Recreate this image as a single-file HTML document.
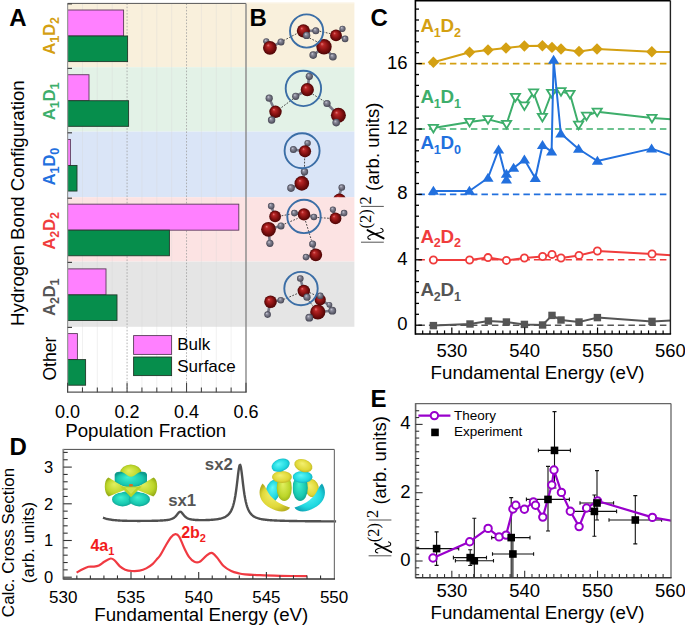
<!DOCTYPE html>
<html><head><meta charset="utf-8"><style>
html,body{margin:0;padding:0;background:#fff;}
svg{display:block;font-family:"Liberation Sans", sans-serif;}
</style></head><body>
<svg width="685" height="626" viewBox="0 0 685 626">
<rect width="685" height="626" fill="#fff"/>
<rect x="67.6" y="3.4" width="286.8" height="63.8" fill="#F9F0DC"/>
<rect x="67.6" y="67.2" width="286.8" height="64.4" fill="#E3F2E7"/>
<rect x="67.6" y="131.6" width="286.8" height="65.6" fill="#DAE5F7"/>
<rect x="67.6" y="197.2" width="286.8" height="64.4" fill="#FCE3E3"/>
<rect x="67.6" y="261.6" width="286.8" height="65.2" fill="#E5E5E5"/>
<rect x="246" y="2.5" width="108.39999999999998" height="1" fill="#F9F0DC"/>
<line x1="82.47" y1="3.4" x2="82.47" y2="392.2" stroke="#d8d8d8" stroke-width="0.5" stroke-opacity="0.7"/>
<line x1="97.33" y1="3.4" x2="97.33" y2="392.2" stroke="#d8d8d8" stroke-width="0.5" stroke-opacity="0.7"/>
<line x1="112.2" y1="3.4" x2="112.2" y2="392.2" stroke="#d8d8d8" stroke-width="0.5" stroke-opacity="0.7"/>
<line x1="127.07" y1="3.4" x2="127.07" y2="392.2" stroke="#a0a0a0" stroke-width="0.8" stroke-dasharray="1.6,1.6"/>
<line x1="141.93" y1="3.4" x2="141.93" y2="392.2" stroke="#d8d8d8" stroke-width="0.5" stroke-opacity="0.7"/>
<line x1="156.8" y1="3.4" x2="156.8" y2="392.2" stroke="#d8d8d8" stroke-width="0.5" stroke-opacity="0.7"/>
<line x1="171.67" y1="3.4" x2="171.67" y2="392.2" stroke="#d8d8d8" stroke-width="0.5" stroke-opacity="0.7"/>
<line x1="186.53" y1="3.4" x2="186.53" y2="392.2" stroke="#a0a0a0" stroke-width="0.8" stroke-dasharray="1.6,1.6"/>
<line x1="201.4" y1="3.4" x2="201.4" y2="392.2" stroke="#d8d8d8" stroke-width="0.5" stroke-opacity="0.7"/>
<line x1="216.27" y1="3.4" x2="216.27" y2="392.2" stroke="#d8d8d8" stroke-width="0.5" stroke-opacity="0.7"/>
<line x1="231.13" y1="3.4" x2="231.13" y2="392.2" stroke="#d8d8d8" stroke-width="0.5" stroke-opacity="0.7"/>
<rect x="67.6" y="10" width="56" height="26" fill="#FF80FF" stroke="#5a3a5a" stroke-width="0.9"/>
<rect x="67.6" y="36" width="60" height="25.6" fill="#068E4C" stroke="#22382a" stroke-width="0.9"/>
<rect x="67.6" y="74.72" width="21.4" height="26" fill="#FF80FF" stroke="#5a3a5a" stroke-width="0.9"/>
<rect x="67.6" y="100.72" width="61" height="25.6" fill="#068E4C" stroke="#22382a" stroke-width="0.9"/>
<rect x="67.6" y="139.44" width="2.8" height="26" fill="#FF80FF" stroke="#5a3a5a" stroke-width="0.9"/>
<rect x="67.6" y="165.44" width="9.4" height="25.6" fill="#068E4C" stroke="#22382a" stroke-width="0.9"/>
<rect x="67.6" y="204.16" width="171.2" height="26" fill="#FF80FF" stroke="#5a3a5a" stroke-width="0.9"/>
<rect x="67.6" y="230.16" width="101.8" height="25.6" fill="#068E4C" stroke="#22382a" stroke-width="0.9"/>
<rect x="67.6" y="268.88" width="38.4" height="26" fill="#FF80FF" stroke="#5a3a5a" stroke-width="0.9"/>
<rect x="67.6" y="294.88" width="49.4" height="25.6" fill="#068E4C" stroke="#22382a" stroke-width="0.9"/>
<rect x="67.6" y="333.6" width="9.8" height="26" fill="#FF80FF" stroke="#5a3a5a" stroke-width="0.9"/>
<rect x="67.6" y="359.6" width="18" height="25.6" fill="#068E4C" stroke="#22382a" stroke-width="0.9"/>
<line x1="67.6" y1="3.4" x2="246" y2="3.4" stroke="#555" stroke-width="1" />
<line x1="246" y1="3.4" x2="246" y2="392.2" stroke="#888" stroke-width="1.4" />
<line x1="67.6" y1="3.4" x2="67.6" y2="392.2" stroke="#9a9a9a" stroke-width="1.2" />
<line x1="67" y1="392.2" x2="246.6" y2="392.2" stroke="#555" stroke-width="1.2" />
<line x1="67.6" y1="3.9" x2="72" y2="3.9" stroke="#444" stroke-width="1.2" />
<line x1="67.6" y1="68.4" x2="72" y2="68.4" stroke="#444" stroke-width="1.2" />
<line x1="67.6" y1="132.8" x2="72" y2="132.8" stroke="#444" stroke-width="1.2" />
<line x1="67.6" y1="198.2" x2="72" y2="198.2" stroke="#444" stroke-width="1.2" />
<line x1="67.6" y1="262.4" x2="72" y2="262.4" stroke="#444" stroke-width="1.2" />
<line x1="67.6" y1="327.4" x2="72" y2="327.4" stroke="#444" stroke-width="1.2" />
<line x1="67.6" y1="392.2" x2="67.6" y2="382.7" stroke="#444" stroke-width="1.1" />
<line x1="82.47" y1="392.2" x2="82.47" y2="387.4" stroke="#444" stroke-width="1.1" />
<line x1="97.33" y1="392.2" x2="97.33" y2="387.4" stroke="#444" stroke-width="1.1" />
<line x1="112.2" y1="392.2" x2="112.2" y2="387.4" stroke="#444" stroke-width="1.1" />
<line x1="127.07" y1="392.2" x2="127.07" y2="382.7" stroke="#444" stroke-width="1.1" />
<line x1="141.93" y1="392.2" x2="141.93" y2="387.4" stroke="#444" stroke-width="1.1" />
<line x1="156.8" y1="392.2" x2="156.8" y2="387.4" stroke="#444" stroke-width="1.1" />
<line x1="171.67" y1="392.2" x2="171.67" y2="387.4" stroke="#444" stroke-width="1.1" />
<line x1="186.53" y1="392.2" x2="186.53" y2="382.7" stroke="#444" stroke-width="1.1" />
<line x1="201.4" y1="392.2" x2="201.4" y2="387.4" stroke="#444" stroke-width="1.1" />
<line x1="216.27" y1="392.2" x2="216.27" y2="387.4" stroke="#444" stroke-width="1.1" />
<line x1="231.13" y1="392.2" x2="231.13" y2="387.4" stroke="#444" stroke-width="1.1" />
<line x1="246" y1="392.2" x2="246" y2="382.7" stroke="#444" stroke-width="1.1" />
<text x="67.6" y="417.6" font-size="18" text-anchor="middle" fill="#000" font-weight="normal" >0.0</text>
<text x="127.07" y="417.6" font-size="18" text-anchor="middle" fill="#000" font-weight="normal" >0.2</text>
<text x="186.53" y="417.6" font-size="18" text-anchor="middle" fill="#000" font-weight="normal" >0.4</text>
<text x="246" y="417.6" font-size="18" text-anchor="middle" fill="#000" font-weight="normal" >0.6</text>
<text x="145.7" y="436.6" font-size="18.7" text-anchor="middle" fill="#000" font-weight="normal" >Population Fraction</text>
<text transform="translate(24,203.1) rotate(-90)" font-size="18.65" text-anchor="middle" fill="#000" font-weight="normal" >Hydrogen Bond Configuration</text>
<text transform="translate(54.8,36) rotate(-90)" font-size="17" text-anchor="middle" fill="#D4A012" font-weight="bold" letter-spacing="-0.3">A<tspan font-size="12.6" dy="4.3">1</tspan><tspan dy="-4.3">D</tspan><tspan font-size="12.6" dy="4.3">2</tspan></text>
<text transform="translate(54.8,101.6) rotate(-90)" font-size="17" text-anchor="middle" fill="#3DAE6B" font-weight="bold" letter-spacing="-0.3">A<tspan font-size="12.6" dy="4.3">1</tspan><tspan dy="-4.3">D</tspan><tspan font-size="12.6" dy="4.3">1</tspan></text>
<text transform="translate(54.8,166.8) rotate(-90)" font-size="17" text-anchor="middle" fill="#2270DE" font-weight="bold" letter-spacing="-0.3">A<tspan font-size="12.6" dy="4.3">1</tspan><tspan dy="-4.3">D</tspan><tspan font-size="12.6" dy="4.3">0</tspan></text>
<text transform="translate(54.8,231) rotate(-90)" font-size="17" text-anchor="middle" fill="#F03C3C" font-weight="bold" letter-spacing="-0.3">A<tspan font-size="12.6" dy="4.3">2</tspan><tspan dy="-4.3">D</tspan><tspan font-size="12.6" dy="4.3">2</tspan></text>
<text transform="translate(54.8,297.4) rotate(-90)" font-size="17" text-anchor="middle" fill="#555" font-weight="bold" letter-spacing="-0.3">A<tspan font-size="12.6" dy="4.3">2</tspan><tspan dy="-4.3">D</tspan><tspan font-size="12.6" dy="4.3">1</tspan></text>
<text transform="translate(55.6,358.6) rotate(-90)" font-size="17.6" text-anchor="middle" fill="#000" font-weight="normal" >Other</text>
<rect x="133.6" y="335.6" width="38" height="18.8" fill="#FF80FF" stroke="#5a3a5a" stroke-width="0.9"/>
<rect x="133.6" y="357" width="38" height="18.6" fill="#068E4C" stroke="#22382a" stroke-width="0.9"/>
<text x="177.2" y="350.4" font-size="17" text-anchor="start" fill="#000" font-weight="normal" >Bulk</text>
<text x="177.2" y="371.6" font-size="17" text-anchor="start" fill="#000" font-weight="normal" >Surface</text>
<text x="9.2" y="26.4" font-size="24" text-anchor="start" fill="#000" font-weight="bold" >A</text>
<text x="249.4" y="26.2" font-size="24" text-anchor="start" fill="#000" font-weight="bold" >B</text>
<text x="370.4" y="26.4" font-size="24" text-anchor="start" fill="#000" font-weight="bold" >C</text>
<text x="9.6" y="455.2" font-size="24" text-anchor="start" fill="#000" font-weight="bold" >D</text>
<text x="370.4" y="407" font-size="24" text-anchor="start" fill="#000" font-weight="bold" >E</text>
<defs>
<radialGradient id="gO" cx="0.5" cy="0.5" r="0.5" fx="0.36" fy="0.3"><stop offset="0" stop-color="#e47a7a"/><stop offset="0.22" stop-color="#b82626"/><stop offset="0.62" stop-color="#851111"/><stop offset="1" stop-color="#4c0505"/></radialGradient>
<radialGradient id="gH" cx="0.5" cy="0.5" r="0.5" fx="0.36" fy="0.3"><stop offset="0" stop-color="#d0d0dc"/><stop offset="0.3" stop-color="#8e8e9e"/><stop offset="0.75" stop-color="#60606e"/><stop offset="1" stop-color="#424250"/></radialGradient>
<clipPath id="cl3"><rect x="246" y="131.6" width="108.4" height="65.6"/></clipPath>
</defs>
<g>
<line x1="283.5" y1="40.6" x2="297" y2="33.5" stroke="#3a3a3a" stroke-width="0.9" stroke-dasharray="1.8,1.4"/>
<line x1="319.5" y1="31.2" x2="330.2" y2="33.6" stroke="#3a3a3a" stroke-width="0.9" stroke-dasharray="1.8,1.4"/>
<line x1="309.5" y1="38" x2="318.5" y2="42.5" stroke="#3a3a3a" stroke-width="0.9" stroke-dasharray="1.8,1.4"/>
<line x1="269.9" y1="47.8" x2="266.3" y2="41.3" stroke="#7a7a88" stroke-width="2.6" />
<line x1="269.9" y1="47.8" x2="281" y2="41.9" stroke="#7a7a88" stroke-width="2.6" />
<line x1="303.4" y1="30.8" x2="315.8" y2="30.8" stroke="#7a7a88" stroke-width="2.6" />
<line x1="303.4" y1="30.8" x2="306.6" y2="35.4" stroke="#7a7a88" stroke-width="2.6" />
<line x1="336" y1="35.4" x2="342.5" y2="28.8" stroke="#7a7a88" stroke-width="2.6" />
<line x1="336" y1="35.4" x2="345.1" y2="38.9" stroke="#7a7a88" stroke-width="2.6" />
<line x1="324" y1="46.8" x2="313.2" y2="55.1" stroke="#7a7a88" stroke-width="2.6" />
<line x1="324" y1="46.8" x2="332.9" y2="56.8" stroke="#7a7a88" stroke-width="2.6" />
<circle cx="266.3" cy="41.3" r="3.10" fill="url(#gH)"/>
<circle cx="269.9" cy="47.8" r="6.9" fill="url(#gO)"/>
<circle cx="281" cy="41.9" r="3.50" fill="url(#gH)"/>
<circle cx="303.4" cy="30.8" r="6.6" fill="url(#gO)"/>
<circle cx="315.8" cy="30.8" r="3.50" fill="url(#gH)"/>
<circle cx="306.6" cy="35.4" r="3.70" fill="url(#gH)"/>
<circle cx="336" cy="35.4" r="5.9" fill="url(#gO)"/>
<circle cx="342.5" cy="28.8" r="3.10" fill="url(#gH)"/>
<circle cx="345.1" cy="38.9" r="3.30" fill="url(#gH)"/>
<circle cx="324" cy="46.8" r="7.7" fill="url(#gO)"/>
<circle cx="313.2" cy="55.1" r="3.80" fill="url(#gH)"/>
<circle cx="332.9" cy="56.8" r="3.80" fill="url(#gH)"/>
<circle cx="306.6" cy="31" r="16.6" fill="none" stroke="#3b6ea6" stroke-width="1.9"/>
</g>
<g>
<line x1="281.5" y1="107.5" x2="293" y2="99" stroke="#3a3a3a" stroke-width="0.9" stroke-dasharray="1.8,1.4"/>
<line x1="312.5" y1="94" x2="324.5" y2="101.5" stroke="#3a3a3a" stroke-width="0.9" stroke-dasharray="1.8,1.4"/>
<line x1="307.3" y1="89.7" x2="309.3" y2="76.3" stroke="#7a7a88" stroke-width="2.6" />
<line x1="307.3" y1="89.7" x2="295.7" y2="96.3" stroke="#7a7a88" stroke-width="2.6" />
<line x1="275.5" y1="111.8" x2="269.2" y2="98.2" stroke="#7a7a88" stroke-width="2.6" />
<line x1="275.5" y1="111.8" x2="271.6" y2="120" stroke="#7a7a88" stroke-width="2.6" />
<line x1="338.4" y1="115.3" x2="327" y2="103.5" stroke="#7a7a88" stroke-width="2.6" />
<line x1="338.4" y1="115.3" x2="336.2" y2="122.6" stroke="#7a7a88" stroke-width="2.6" />
<circle cx="307.3" cy="89.7" r="6.6" fill="url(#gO)"/>
<circle cx="309.3" cy="76.3" r="3.60" fill="url(#gH)"/>
<circle cx="295.7" cy="96.3" r="3.60" fill="url(#gH)"/>
<circle cx="269.2" cy="98.2" r="3.60" fill="url(#gH)"/>
<circle cx="275.5" cy="111.8" r="6.2" fill="url(#gO)"/>
<circle cx="271.6" cy="120" r="3.70" fill="url(#gH)"/>
<circle cx="327" cy="103.5" r="3.60" fill="url(#gH)"/>
<circle cx="338.4" cy="115.3" r="7.5" fill="url(#gO)"/>
<circle cx="336.2" cy="122.6" r="3.80" fill="url(#gH)"/>
<circle cx="303.4" cy="88.4" r="17.7" fill="none" stroke="#3b6ea6" stroke-width="1.9"/>
</g>
<g clip-path="url(#cl3)">
<line x1="304.6" y1="158.5" x2="304.5" y2="167.5" stroke="#3a3a3a" stroke-width="0.9" stroke-dasharray="1.8,1.4"/>
<line x1="305" y1="151.3" x2="307.6" y2="143.1" stroke="#7a7a88" stroke-width="2.6" />
<line x1="305" y1="151.3" x2="293.4" y2="149.5" stroke="#7a7a88" stroke-width="2.6" />
<line x1="301.8" y1="183.4" x2="304.5" y2="171.7" stroke="#7a7a88" stroke-width="2.6" />
<line x1="301.8" y1="183.4" x2="291" y2="188.1" stroke="#7a7a88" stroke-width="2.6" />
<line x1="338.9" y1="196" x2="341.8" y2="187.5" stroke="#7a7a88" stroke-width="2.6" />
<circle cx="307.6" cy="143.1" r="3.20" fill="url(#gH)"/>
<circle cx="305" cy="151.3" r="6.1" fill="url(#gO)"/>
<circle cx="293.4" cy="149.5" r="3.50" fill="url(#gH)"/>
<circle cx="304.5" cy="171.7" r="3.70" fill="url(#gH)"/>
<circle cx="301.8" cy="183.4" r="7.3" fill="url(#gO)"/>
<circle cx="291" cy="188.1" r="3.80" fill="url(#gH)"/>
<circle cx="341.8" cy="187.5" r="3.30" fill="url(#gH)"/>
<circle cx="339.5" cy="200" r="6.5" fill="url(#gO)"/>
<circle cx="302.1" cy="150.7" r="17.5" fill="none" stroke="#3b6ea6" stroke-width="1.9"/>
</g>
<g>
<line x1="281.5" y1="215.8" x2="291" y2="214" stroke="#3a3a3a" stroke-width="0.9" stroke-dasharray="1.8,1.4"/>
<line x1="317.5" y1="217.5" x2="329" y2="218.3" stroke="#3a3a3a" stroke-width="0.9" stroke-dasharray="1.8,1.4"/>
<line x1="305.5" y1="221" x2="311.5" y2="240.5" stroke="#3a3a3a" stroke-width="0.9" stroke-dasharray="1.8,1.4"/>
<line x1="284.5" y1="224" x2="297.5" y2="218.5" stroke="#3a3a3a" stroke-width="0.9" stroke-dasharray="1.8,1.4"/>
<line x1="304" y1="214.4" x2="294.4" y2="213.1" stroke="#7a7a88" stroke-width="2.6" />
<line x1="304" y1="214.4" x2="313.9" y2="217" stroke="#7a7a88" stroke-width="2.6" />
<line x1="275.1" y1="216.4" x2="271.2" y2="206.1" stroke="#7a7a88" stroke-width="2.6" />
<line x1="268.5" y1="229.3" x2="281" y2="225.9" stroke="#7a7a88" stroke-width="2.6" />
<line x1="268.5" y1="229.3" x2="269.9" y2="243.3" stroke="#7a7a88" stroke-width="2.6" />
<line x1="335.5" y1="218.4" x2="332.9" y2="209.6" stroke="#7a7a88" stroke-width="2.6" />
<line x1="335.5" y1="218.4" x2="344.1" y2="213.1" stroke="#7a7a88" stroke-width="2.6" />
<line x1="315.8" y1="254.8" x2="312.6" y2="244" stroke="#7a7a88" stroke-width="2.6" />
<line x1="315.8" y1="254.8" x2="306" y2="257.1" stroke="#7a7a88" stroke-width="2.6" />
<circle cx="294.4" cy="213.1" r="3.30" fill="url(#gH)"/>
<circle cx="304" cy="214.4" r="6.2" fill="url(#gO)"/>
<circle cx="313.9" cy="217" r="3.30" fill="url(#gH)"/>
<circle cx="271.2" cy="206.1" r="3.30" fill="url(#gH)"/>
<circle cx="275.1" cy="216.4" r="5.9" fill="url(#gO)"/>
<circle cx="268.5" cy="229.3" r="7.4" fill="url(#gO)"/>
<circle cx="281" cy="225.9" r="3.50" fill="url(#gH)"/>
<circle cx="269.9" cy="243.3" r="3.60" fill="url(#gH)"/>
<circle cx="332.9" cy="209.6" r="3.10" fill="url(#gH)"/>
<circle cx="335.5" cy="218.4" r="5.9" fill="url(#gO)"/>
<circle cx="344.1" cy="213.1" r="3.30" fill="url(#gH)"/>
<circle cx="312.6" cy="244" r="3.50" fill="url(#gH)"/>
<circle cx="315.8" cy="254.8" r="6.4" fill="url(#gO)"/>
<circle cx="306" cy="257.1" r="3.30" fill="url(#gH)"/>
<circle cx="304" cy="216.4" r="16.7" fill="none" stroke="#3b6ea6" stroke-width="1.9"/>
</g>
<g>
<line x1="283.5" y1="299.5" x2="297.5" y2="293.5" stroke="#3a3a3a" stroke-width="0.9" stroke-dasharray="1.8,1.4"/>
<line x1="309.5" y1="292.5" x2="317" y2="296" stroke="#3a3a3a" stroke-width="0.9" stroke-dasharray="1.8,1.4"/>
<line x1="308.5" y1="300.5" x2="313" y2="306" stroke="#3a3a3a" stroke-width="0.9" stroke-dasharray="1.8,1.4"/>
<line x1="303.8" y1="291" x2="300.3" y2="278.5" stroke="#7a7a88" stroke-width="2.6" />
<line x1="303.8" y1="291" x2="307" y2="297.2" stroke="#7a7a88" stroke-width="2.6" />
<line x1="270.5" y1="301.8" x2="280.8" y2="300.2" stroke="#7a7a88" stroke-width="2.6" />
<line x1="270.5" y1="301.8" x2="267.6" y2="314.6" stroke="#7a7a88" stroke-width="2.6" />
<line x1="320.2" y1="299.8" x2="329.4" y2="304.8" stroke="#7a7a88" stroke-width="2.6" />
<line x1="317.8" y1="312" x2="309.3" y2="317.7" stroke="#7a7a88" stroke-width="2.6" />
<line x1="317.8" y1="312" x2="332.3" y2="310.7" stroke="#7a7a88" stroke-width="2.6" />
<circle cx="303.8" cy="291" r="6.2" fill="url(#gO)"/>
<circle cx="300.3" cy="278.5" r="3.30" fill="url(#gH)"/>
<circle cx="307" cy="297.2" r="3.60" fill="url(#gH)"/>
<circle cx="270.5" cy="301.8" r="6.3" fill="url(#gO)"/>
<circle cx="280.8" cy="300.2" r="3.30" fill="url(#gH)"/>
<circle cx="267.6" cy="314.6" r="3.30" fill="url(#gH)"/>
<circle cx="320.2" cy="299.8" r="5.6" fill="url(#gO)"/>
<circle cx="320.2" cy="295.9" r="3.30" fill="url(#gH)"/>
<circle cx="329.4" cy="304.8" r="2.90" fill="url(#gH)"/>
<circle cx="317.8" cy="312" r="7.6" fill="url(#gO)"/>
<circle cx="309.3" cy="317.7" r="3.90" fill="url(#gH)"/>
<circle cx="332.3" cy="310.7" r="3.90" fill="url(#gH)"/>
<circle cx="301" cy="288.6" r="16.7" fill="none" stroke="#3b6ea6" stroke-width="1.9"/>
</g>
<line x1="418.4" y1="63.6" x2="668.4" y2="63.6" stroke="#D4A012" stroke-width="1.6" stroke-dasharray="6.5,4"/>
<line x1="418.4" y1="129" x2="668.4" y2="129" stroke="#3DAE6B" stroke-width="1.6" stroke-dasharray="6.5,4"/>
<line x1="418.4" y1="194.4" x2="668.4" y2="194.4" stroke="#2270DE" stroke-width="1.6" stroke-dasharray="6.5,4"/>
<line x1="418.4" y1="259.8" x2="668.4" y2="259.8" stroke="#F03C3C" stroke-width="1.6" stroke-dasharray="6.5,4"/>
<line x1="418.4" y1="325.2" x2="668.4" y2="325.2" stroke="#555555" stroke-width="1.6" stroke-dasharray="6.5,4"/>
<clipPath id="clC"><rect x="415" y="0" width="255.4" height="334"/></clipPath>
<g clip-path="url(#clC)">
<polyline points="433.4,62.3 469.6,52.2 488,50 506,48 524.4,46 542.4,45.8 552,47.4 561,49 579,51.4 597,49 651.8,51.7 671,52" fill="none" stroke="#D4A012" stroke-width="2" stroke-linejoin="round" />
<polygon points="433.4,56.6 439.1,62.3 433.4,68 427.7,62.3" fill="#D4A012"/>
<polygon points="469.6,46.5 475.3,52.2 469.6,57.9 463.9,52.2" fill="#D4A012"/>
<polygon points="488,44.3 493.7,50 488,55.7 482.3,50" fill="#D4A012"/>
<polygon points="506,42.3 511.7,48 506,53.7 500.3,48" fill="#D4A012"/>
<polygon points="524.4,40.3 530.1,46 524.4,51.7 518.7,46" fill="#D4A012"/>
<polygon points="542.4,40.1 548.1,45.8 542.4,51.5 536.7,45.8" fill="#D4A012"/>
<polygon points="552,41.7 557.7,47.4 552,53.1 546.3,47.4" fill="#D4A012"/>
<polygon points="561,43.3 566.7,49 561,54.7 555.3,49" fill="#D4A012"/>
<polygon points="579,45.7 584.7,51.4 579,57.1 573.3,51.4" fill="#D4A012"/>
<polygon points="597,43.3 602.7,49 597,54.7 591.3,49" fill="#D4A012"/>
<polygon points="651.8,46 657.5,51.7 651.8,57.4 646.1,51.7" fill="#D4A012"/>
<polyline points="433.4,128 469.6,122 488,119.4 506.6,124 515.4,97 524.4,105.6 533.6,92.6 542.4,117 551.6,93 561,91.4 570,94 578.6,124.8 586.5,115.8 597.2,111.8 652,118 671,119.2" fill="none" stroke="#3DAE6B" stroke-width="2" stroke-linejoin="round" />
<polygon points="428.8,124.81 438,124.81 433.4,132.41" fill="#fff" stroke="#3DAE6B" stroke-width="1.8" stroke-linejoin="miter"/>
<polygon points="465,118.81 474.2,118.81 469.6,126.41" fill="#fff" stroke="#3DAE6B" stroke-width="1.8" stroke-linejoin="miter"/>
<polygon points="483.4,116.21 492.6,116.21 488,123.81" fill="#fff" stroke="#3DAE6B" stroke-width="1.8" stroke-linejoin="miter"/>
<polygon points="502,120.81 511.2,120.81 506.6,128.41" fill="#fff" stroke="#3DAE6B" stroke-width="1.8" stroke-linejoin="miter"/>
<polygon points="510.8,93.81 520,93.81 515.4,101.41" fill="#fff" stroke="#3DAE6B" stroke-width="1.8" stroke-linejoin="miter"/>
<polygon points="519.8,102.41 529,102.41 524.4,110.01" fill="#fff" stroke="#3DAE6B" stroke-width="1.8" stroke-linejoin="miter"/>
<polygon points="529,89.41 538.2,89.41 533.6,97.01" fill="#fff" stroke="#3DAE6B" stroke-width="1.8" stroke-linejoin="miter"/>
<polygon points="537.8,113.81 547,113.81 542.4,121.41" fill="#fff" stroke="#3DAE6B" stroke-width="1.8" stroke-linejoin="miter"/>
<polygon points="547,89.81 556.2,89.81 551.6,97.41" fill="#fff" stroke="#3DAE6B" stroke-width="1.8" stroke-linejoin="miter"/>
<polygon points="556.4,88.21 565.6,88.21 561,95.81" fill="#fff" stroke="#3DAE6B" stroke-width="1.8" stroke-linejoin="miter"/>
<polygon points="565.4,90.81 574.6,90.81 570,98.41" fill="#fff" stroke="#3DAE6B" stroke-width="1.8" stroke-linejoin="miter"/>
<polygon points="574,121.61 583.2,121.61 578.6,129.21" fill="#fff" stroke="#3DAE6B" stroke-width="1.8" stroke-linejoin="miter"/>
<polygon points="581.9,112.61 591.1,112.61 586.5,120.21" fill="#fff" stroke="#3DAE6B" stroke-width="1.8" stroke-linejoin="miter"/>
<polygon points="592.6,108.61 601.8,108.61 597.2,116.21" fill="#fff" stroke="#3DAE6B" stroke-width="1.8" stroke-linejoin="miter"/>
<polygon points="647.4,114.81 656.6,114.81 652,122.41" fill="#fff" stroke="#3DAE6B" stroke-width="1.8" stroke-linejoin="miter"/>
<polyline points="433.4,191 469.4,191 488,178 498.6,149.6 506.4,179.6 506.4,174 513.6,168 524.4,159.6 535.3,178.2 542.5,145.3 551.6,151.6 553.6,60 560.8,133.6 578.6,149 597.4,161 651.6,148.6 671,155.2" fill="none" stroke="#2270DE" stroke-width="2" stroke-linejoin="round" />
<polygon points="427.8,194.78 439,194.78 433.4,185.78" fill="#2270DE"/>
<polygon points="463.8,194.78 475,194.78 469.4,185.78" fill="#2270DE"/>
<polygon points="482.4,181.78 493.6,181.78 488,172.78" fill="#2270DE"/>
<polygon points="493,153.38 504.2,153.38 498.6,144.38" fill="#2270DE"/>
<polygon points="500.8,183.38 512,183.38 506.4,174.38" fill="#2270DE"/>
<polygon points="500.8,177.78 512,177.78 506.4,168.78" fill="#2270DE"/>
<polygon points="508,171.78 519.2,171.78 513.6,162.78" fill="#2270DE"/>
<polygon points="518.8,163.38 530,163.38 524.4,154.38" fill="#2270DE"/>
<polygon points="529.7,181.98 540.9,181.98 535.3,172.98" fill="#2270DE"/>
<polygon points="536.9,149.08 548.1,149.08 542.5,140.08" fill="#2270DE"/>
<polygon points="546,155.38 557.2,155.38 551.6,146.38" fill="#2270DE"/>
<polygon points="548,63.78 559.2,63.78 553.6,54.78" fill="#2270DE"/>
<polygon points="555.2,137.38 566.4,137.38 560.8,128.38" fill="#2270DE"/>
<polygon points="573,152.78 584.2,152.78 578.6,143.78" fill="#2270DE"/>
<polygon points="591.8,164.78 603,164.78 597.4,155.78" fill="#2270DE"/>
<polygon points="646,152.38 657.2,152.38 651.6,143.38" fill="#2270DE"/>
<polyline points="433.4,260 469.6,260 488,257.6 506.4,260.4 524.4,258 542.6,256.5 552,254.4 561,258 579,255.4 597.4,251 652,254 671,255.2" fill="none" stroke="#F03C3C" stroke-width="2" stroke-linejoin="round" />
<circle cx="433.4" cy="260" r="3.6" fill="#fff" stroke="#F03C3C" stroke-width="1.8"/>
<circle cx="469.6" cy="260" r="3.6" fill="#fff" stroke="#F03C3C" stroke-width="1.8"/>
<circle cx="488" cy="257.6" r="3.6" fill="#fff" stroke="#F03C3C" stroke-width="1.8"/>
<circle cx="506.4" cy="260.4" r="3.6" fill="#fff" stroke="#F03C3C" stroke-width="1.8"/>
<circle cx="524.4" cy="258" r="3.6" fill="#fff" stroke="#F03C3C" stroke-width="1.8"/>
<circle cx="542.6" cy="256.5" r="3.6" fill="#fff" stroke="#F03C3C" stroke-width="1.8"/>
<circle cx="552" cy="254.4" r="3.6" fill="#fff" stroke="#F03C3C" stroke-width="1.8"/>
<circle cx="561" cy="258" r="3.6" fill="#fff" stroke="#F03C3C" stroke-width="1.8"/>
<circle cx="579" cy="255.4" r="3.6" fill="#fff" stroke="#F03C3C" stroke-width="1.8"/>
<circle cx="597.4" cy="251" r="3.6" fill="#fff" stroke="#F03C3C" stroke-width="1.8"/>
<circle cx="652" cy="254" r="3.6" fill="#fff" stroke="#F03C3C" stroke-width="1.8"/>
<polyline points="433.4,325.6 470,324 488.4,321 506.4,322 524.4,324.4 542.6,325 552,315.4 561,320 579,322 597.4,317.6 652,321.4 671,320.4" fill="none" stroke="#555555" stroke-width="2" stroke-linejoin="round" />
<rect x="429.7" y="321.9" width="7.4" height="7.4" fill="#555555"/>
<rect x="466.3" y="320.3" width="7.4" height="7.4" fill="#555555"/>
<rect x="484.7" y="317.3" width="7.4" height="7.4" fill="#555555"/>
<rect x="502.7" y="318.3" width="7.4" height="7.4" fill="#555555"/>
<rect x="520.7" y="320.7" width="7.4" height="7.4" fill="#555555"/>
<rect x="538.9" y="321.3" width="7.4" height="7.4" fill="#555555"/>
<rect x="548.3" y="311.7" width="7.4" height="7.4" fill="#555555"/>
<rect x="557.3" y="316.3" width="7.4" height="7.4" fill="#555555"/>
<rect x="575.3" y="318.3" width="7.4" height="7.4" fill="#555555"/>
<rect x="593.7" y="313.9" width="7.4" height="7.4" fill="#555555"/>
<rect x="648.3" y="317.7" width="7.4" height="7.4" fill="#555555"/>
</g>
<line x1="415.4" y1="0.6" x2="670.4" y2="0.6" stroke="#000" stroke-width="1.6" />
<line x1="670.4" y1="0.6" x2="670.4" y2="334" stroke="#222" stroke-width="1.4" />
<line x1="415.4" y1="-0.4" x2="415.4" y2="334.8" stroke="#000" stroke-width="1.6" />
<line x1="415.4" y1="334" x2="671.1" y2="334" stroke="#000" stroke-width="1.6" />
<line x1="415.4" y1="325.2" x2="421.9" y2="325.2" stroke="#000" stroke-width="1.3" />
<line x1="415.4" y1="314.3" x2="419" y2="314.3" stroke="#000" stroke-width="1.3" />
<line x1="415.4" y1="303.4" x2="419" y2="303.4" stroke="#000" stroke-width="1.3" />
<line x1="415.4" y1="292.5" x2="419" y2="292.5" stroke="#000" stroke-width="1.3" />
<line x1="415.4" y1="281.6" x2="419" y2="281.6" stroke="#000" stroke-width="1.3" />
<line x1="415.4" y1="270.7" x2="419" y2="270.7" stroke="#000" stroke-width="1.3" />
<line x1="415.4" y1="259.8" x2="421.9" y2="259.8" stroke="#000" stroke-width="1.3" />
<line x1="415.4" y1="248.9" x2="419" y2="248.9" stroke="#000" stroke-width="1.3" />
<line x1="415.4" y1="238" x2="419" y2="238" stroke="#000" stroke-width="1.3" />
<line x1="415.4" y1="227.1" x2="419" y2="227.1" stroke="#000" stroke-width="1.3" />
<line x1="415.4" y1="216.2" x2="419" y2="216.2" stroke="#000" stroke-width="1.3" />
<line x1="415.4" y1="205.3" x2="419" y2="205.3" stroke="#000" stroke-width="1.3" />
<line x1="415.4" y1="194.4" x2="421.9" y2="194.4" stroke="#000" stroke-width="1.3" />
<line x1="415.4" y1="183.5" x2="419" y2="183.5" stroke="#000" stroke-width="1.3" />
<line x1="415.4" y1="172.6" x2="419" y2="172.6" stroke="#000" stroke-width="1.3" />
<line x1="415.4" y1="161.7" x2="419" y2="161.7" stroke="#000" stroke-width="1.3" />
<line x1="415.4" y1="150.8" x2="419" y2="150.8" stroke="#000" stroke-width="1.3" />
<line x1="415.4" y1="139.9" x2="419" y2="139.9" stroke="#000" stroke-width="1.3" />
<line x1="415.4" y1="129" x2="421.9" y2="129" stroke="#000" stroke-width="1.3" />
<line x1="415.4" y1="118.1" x2="419" y2="118.1" stroke="#000" stroke-width="1.3" />
<line x1="415.4" y1="107.2" x2="419" y2="107.2" stroke="#000" stroke-width="1.3" />
<line x1="415.4" y1="96.3" x2="419" y2="96.3" stroke="#000" stroke-width="1.3" />
<line x1="415.4" y1="85.4" x2="419" y2="85.4" stroke="#000" stroke-width="1.3" />
<line x1="415.4" y1="74.5" x2="419" y2="74.5" stroke="#000" stroke-width="1.3" />
<line x1="415.4" y1="63.6" x2="421.9" y2="63.6" stroke="#000" stroke-width="1.3" />
<line x1="415.4" y1="52.7" x2="419" y2="52.7" stroke="#000" stroke-width="1.3" />
<line x1="415.4" y1="41.8" x2="419" y2="41.8" stroke="#000" stroke-width="1.3" />
<line x1="415.4" y1="30.9" x2="419" y2="30.9" stroke="#000" stroke-width="1.3" />
<line x1="415.4" y1="20" x2="419" y2="20" stroke="#000" stroke-width="1.3" />
<line x1="415.4" y1="9.1" x2="419" y2="9.1" stroke="#000" stroke-width="1.3" />
<text x="407.6" y="330.1" font-size="18.5" text-anchor="end" fill="#000" font-weight="normal" >0</text>
<text x="407.6" y="264.7" font-size="18.5" text-anchor="end" fill="#000" font-weight="normal" >4</text>
<text x="407.6" y="199.3" font-size="18.5" text-anchor="end" fill="#000" font-weight="normal" >8</text>
<text x="407.6" y="133.9" font-size="18.5" text-anchor="end" fill="#000" font-weight="normal" >12</text>
<text x="407.6" y="68.5" font-size="18.5" text-anchor="end" fill="#000" font-weight="normal" >16</text>
<line x1="422.69" y1="334" x2="422.69" y2="330.4" stroke="#000" stroke-width="1.2" />
<line x1="429.97" y1="334" x2="429.97" y2="330.4" stroke="#000" stroke-width="1.2" />
<line x1="437.26" y1="334" x2="437.26" y2="330.4" stroke="#000" stroke-width="1.2" />
<line x1="444.54" y1="334" x2="444.54" y2="330.4" stroke="#000" stroke-width="1.2" />
<line x1="451.83" y1="334" x2="451.83" y2="327.5" stroke="#000" stroke-width="1.2" />
<line x1="459.11" y1="334" x2="459.11" y2="330.4" stroke="#000" stroke-width="1.2" />
<line x1="466.4" y1="334" x2="466.4" y2="330.4" stroke="#000" stroke-width="1.2" />
<line x1="473.69" y1="334" x2="473.69" y2="330.4" stroke="#000" stroke-width="1.2" />
<line x1="480.97" y1="334" x2="480.97" y2="330.4" stroke="#000" stroke-width="1.2" />
<line x1="488.26" y1="334" x2="488.26" y2="330.4" stroke="#000" stroke-width="1.2" />
<line x1="495.54" y1="334" x2="495.54" y2="330.4" stroke="#000" stroke-width="1.2" />
<line x1="502.83" y1="334" x2="502.83" y2="330.4" stroke="#000" stroke-width="1.2" />
<line x1="510.11" y1="334" x2="510.11" y2="330.4" stroke="#000" stroke-width="1.2" />
<line x1="517.4" y1="334" x2="517.4" y2="330.4" stroke="#000" stroke-width="1.2" />
<line x1="524.69" y1="334" x2="524.69" y2="327.5" stroke="#000" stroke-width="1.2" />
<line x1="531.97" y1="334" x2="531.97" y2="330.4" stroke="#000" stroke-width="1.2" />
<line x1="539.26" y1="334" x2="539.26" y2="330.4" stroke="#000" stroke-width="1.2" />
<line x1="546.54" y1="334" x2="546.54" y2="330.4" stroke="#000" stroke-width="1.2" />
<line x1="553.83" y1="334" x2="553.83" y2="330.4" stroke="#000" stroke-width="1.2" />
<line x1="561.11" y1="334" x2="561.11" y2="330.4" stroke="#000" stroke-width="1.2" />
<line x1="568.4" y1="334" x2="568.4" y2="330.4" stroke="#000" stroke-width="1.2" />
<line x1="575.69" y1="334" x2="575.69" y2="330.4" stroke="#000" stroke-width="1.2" />
<line x1="582.97" y1="334" x2="582.97" y2="330.4" stroke="#000" stroke-width="1.2" />
<line x1="590.26" y1="334" x2="590.26" y2="330.4" stroke="#000" stroke-width="1.2" />
<line x1="597.54" y1="334" x2="597.54" y2="327.5" stroke="#000" stroke-width="1.2" />
<line x1="604.83" y1="334" x2="604.83" y2="330.4" stroke="#000" stroke-width="1.2" />
<line x1="612.11" y1="334" x2="612.11" y2="330.4" stroke="#000" stroke-width="1.2" />
<line x1="619.4" y1="334" x2="619.4" y2="330.4" stroke="#000" stroke-width="1.2" />
<line x1="626.69" y1="334" x2="626.69" y2="330.4" stroke="#000" stroke-width="1.2" />
<line x1="633.97" y1="334" x2="633.97" y2="330.4" stroke="#000" stroke-width="1.2" />
<line x1="641.26" y1="334" x2="641.26" y2="330.4" stroke="#000" stroke-width="1.2" />
<line x1="648.54" y1="334" x2="648.54" y2="330.4" stroke="#000" stroke-width="1.2" />
<line x1="655.83" y1="334" x2="655.83" y2="330.4" stroke="#000" stroke-width="1.2" />
<line x1="663.11" y1="334" x2="663.11" y2="330.4" stroke="#000" stroke-width="1.2" />
<text x="451.83" y="356.6" font-size="18.5" text-anchor="middle" fill="#000" font-weight="normal" >530</text>
<text x="524.69" y="356.6" font-size="18.5" text-anchor="middle" fill="#000" font-weight="normal" >540</text>
<text x="597.54" y="356.6" font-size="18.5" text-anchor="middle" fill="#000" font-weight="normal" >550</text>
<text x="670.4" y="356.6" font-size="18.5" text-anchor="middle" fill="#000" font-weight="normal" >560</text>
<text x="537.6" y="378.6" font-size="18.7" text-anchor="middle" fill="#000" font-weight="normal" >Fundamental Energy (eV)</text>
<g transform="translate(0,0)">
<line x1="361" y1="242.2" x2="383.8" y2="242.2" stroke="#555" stroke-width="1.0" />
<line x1="361.1" y1="206.4" x2="383.8" y2="206.4" stroke="#555" stroke-width="1.0" />
<path d="M367.5,230.1 L383.6,238.4" stroke="#000" stroke-width="1.9" stroke-linecap="round" fill="none"/>
<path d="M380.4,228.2 C383.4,228.6 384.2,231.4 381.6,232.3 C378,233.3 372.5,234.2 369.6,235.4 C366.8,236.6 367.3,239.2 370.6,239.4" stroke="#000" stroke-width="1.1" fill="none"/>
<text transform="translate(370.9,228.6) rotate(-90)" font-family="Liberation Serif, serif" font-size="16.5">(2)</text>
<text transform="translate(370.6,204.4) rotate(-90)" font-family="Liberation Serif, serif" font-size="16.5">2</text>
<text transform="translate(378.6,102.6) rotate(-90)" font-size="18.5" text-anchor="end">(arb. units)</text>
</g>
<text x="420.4" y="32.2" font-size="18.8" text-anchor="start" fill="#D4A012" font-weight="bold" letter-spacing="-0.2">A<tspan font-size="12.6" dy="4.4">1</tspan><tspan dy="-4.4">D</tspan><tspan font-size="12.6" dy="4.4">2</tspan></text>
<text x="420.4" y="103.2" font-size="18.8" text-anchor="start" fill="#3DAE6B" font-weight="bold" letter-spacing="-0.2">A<tspan font-size="12.6" dy="4.4">1</tspan><tspan dy="-4.4">D</tspan><tspan font-size="12.6" dy="4.4">1</tspan></text>
<text x="420.4" y="149.2" font-size="18.8" text-anchor="start" fill="#2270DE" font-weight="bold" letter-spacing="-0.2">A<tspan font-size="12.6" dy="4.4">1</tspan><tspan dy="-4.4">D</tspan><tspan font-size="12.6" dy="4.4">0</tspan></text>
<text x="420.4" y="242.6" font-size="18.8" text-anchor="start" fill="#F03C3C" font-weight="bold" letter-spacing="-0.2">A<tspan font-size="12.6" dy="4.4">2</tspan><tspan dy="-4.4">D</tspan><tspan font-size="12.6" dy="4.4">2</tspan></text>
<text x="420.4" y="296.2" font-size="18.8" text-anchor="start" fill="#555555" font-weight="bold" letter-spacing="-0.2">A<tspan font-size="12.6" dy="4.4">2</tspan><tspan dy="-4.4">D</tspan><tspan font-size="12.6" dy="4.4">1</tspan></text>
<polyline points="103,517.71 103.7,517.97 104.4,518.2 105.1,518.42 105.8,518.62 106.5,518.8 107.2,518.98 107.9,519.13 108.6,519.28 109.3,519.41 110,519.54 110.7,519.66 111.4,519.76 112.1,519.86 112.8,519.95 113.5,520.04 114.2,520.11 114.9,520.18 115.6,520.25 116.3,520.31 117,520.37 117.7,520.42 118.4,520.47 119.1,520.51 119.8,520.55 120.5,520.59 121.2,520.62 121.9,520.66 122.6,520.68 123.3,520.71 124,520.74 124.7,520.76 125.4,520.78 126.1,520.8 126.8,520.81 127.5,520.83 128.2,520.84 128.9,520.85 129.6,520.87 130.3,520.88 131,520.89 131.7,520.89 132.4,520.9 133.1,520.91 133.8,520.91 134.5,520.92 135.2,520.92 135.9,520.92 136.6,520.92 137.3,520.93 138,520.93 138.7,520.93 139.4,520.93 140.1,520.93 140.8,520.92 141.5,520.92 142.2,520.92 142.9,520.92 143.6,520.91 144.3,520.91 145,520.9 145.7,520.9 146.4,520.89 147.1,520.89 147.8,520.88 148.5,520.87 149.2,520.86 149.9,520.85 150.6,520.84 151.3,520.83 152,520.82 152.7,520.81 153.4,520.79 154.1,520.78 154.8,520.76 155.5,520.74 156.2,520.72 156.9,520.7 157.6,520.68 158.3,520.66 159,520.63 159.7,520.6 160.4,520.57 161.1,520.53 161.8,520.49 162.5,520.45 163.2,520.4 163.9,520.35 164.6,520.29 165.3,520.22 166,520.14 166.7,520.06 167.4,519.96 168.1,519.84 168.8,519.71 169.5,519.56 170.2,519.39 170.9,519.18 171.6,518.94 172.3,518.65 173,518.31 173.7,517.9 174.4,517.42 175.1,516.84 175.8,516.15 176.5,515.37 177.2,514.49 177.9,513.58 178.6,512.73 179.3,512.07 180,511.74 180.7,511.82 181.4,512.3 182.1,513.04 182.8,513.92 183.5,514.82 184.2,515.64 184.9,516.37 185.6,517 186.3,517.52 187,517.96 187.7,518.32 188.4,518.63 189.1,518.88 189.8,519.09 190.5,519.27 191.2,519.41 191.9,519.54 192.6,519.65 193.3,519.74 194,519.81 194.7,519.88 195.4,519.93 196.1,519.98 196.8,520.01 197.5,520.05 198.2,520.07 198.9,520.09 199.6,520.11 200.3,520.12 201,520.12 201.7,520.13 202.4,520.12 203.1,520.12 203.8,520.11 204.5,520.1 205.2,520.09 205.9,520.07 206.6,520.05 207.3,520.03 208,520 208.7,519.97 209.4,519.93 210.1,519.89 210.8,519.85 211.5,519.8 212.2,519.75 212.9,519.7 213.6,519.63 214.3,519.57 215,519.49 215.7,519.41 216.4,519.32 217.1,519.22 217.8,519.11 218.5,518.99 219.2,518.86 219.9,518.71 220.6,518.55 221.3,518.37 222,518.17 222.7,517.95 223.4,517.7 224.1,517.41 224.8,517.1 225.5,516.73 226.2,516.32 226.9,515.85 227.6,515.3 228.3,514.67 229,513.93 229.7,513.07 230.4,512.05 231.1,510.83 231.8,509.39 232.5,507.64 233.2,505.53 233.9,502.96 234.6,499.84 235.3,496.05 236,491.51 236.7,486.21 237.4,480.29 238.1,474.24 238.8,468.91 239.5,465.43 240.2,464.77 240.9,467.13 241.6,471.81 242.3,477.68 243,483.74 243.7,489.34 244.4,494.22 245.1,498.32 245.8,501.72 246.5,504.51 247.2,506.81 247.9,508.71 248.6,510.28 249.3,511.59 250,512.69 250.7,513.62 251.4,514.41 252.1,515.1 252.8,515.68 253.5,516.19 254.2,516.64 254.9,517.03 255.6,517.37 256.3,517.67 257,517.94 257.7,518.19 258.4,518.4 259.1,518.6 259.8,518.78 260.5,518.94 261.2,519.08 261.9,519.21 262.6,519.34 263.3,519.45 264,519.55 264.7,519.64 265.4,519.73 266.1,519.81 266.8,519.89 267.5,519.96 268.2,520.02 268.9,520.08 269.6,520.14 270.3,520.19 271,520.24 271.7,520.29 272.4,520.33 273.1,520.37 273.8,520.41 274.5,520.45 275.2,520.49 275.9,520.52 276.6,520.55 277.3,520.58 278,520.61 278.7,520.64 279.4,520.66 280.1,520.69 280.8,520.71 281.5,520.73 282.2,520.76 282.9,520.78 283.6,520.8 284.3,520.82 285,520.83 285.7,520.85 286.4,520.87 287.1,520.89 287.8,520.9 288.5,520.92 289.2,520.93 289.9,520.95 290.6,520.96 291.3,520.97 292,520.99 292.7,521 293.4,521.01 294.1,521.02 294.8,521.03 295.5,521.05 296.2,521.06 296.9,521.07 297.6,521.08 298.3,521.09 299,521.1 299.7,521.11 300.4,521.12 301.1,521.13 301.8,521.13 302.5,521.14 303.2,521.15 303.9,521.16 304.6,521.17 305.3,521.18 306,521.18 306.7,521.19 307.4,521.2 308.1,521.21 308.8,521.21 309.5,521.22 310.2,521.23 310.9,521.23 311.6,521.24 312.3,521.25 313,521.25 313.7,521.26 314.4,521.27 315.1,521.27 315.8,521.28 316.5,521.29 317.2,521.29 317.9,521.3 318.6,521.3 319.3,521.31 320,521.31 320.7,521.32 321.4,521.33 322.1,521.33 322.8,521.34 323.5,521.34 324.2,521.35 324.9,521.35 325.6,521.36 326.3,521.36 327,521.37 327.7,521.37 328.4,521.38 329.1,521.38 329.8,521.39 330.5,521.39 331.2,521.4 331.9,521.4 332.6,521.41 333.3,521.41 334,521.42 334.7,521.42 335.4,521.42 336.1,521.43" fill="none" stroke="#505050" stroke-width="2.4" stroke-linejoin="round" />
<path d="M76.6,572.6 C77.68,572 81.13,569.97 83.1,569 C85.07,568.03 86.65,567.2 88.4,566.8 C90.15,566.4 91.85,566.83 93.6,566.6 C95.35,566.37 97.13,566.2 98.9,565.4 C100.67,564.6 102.23,562.95 104.2,561.8 C106.17,560.65 108.95,558.72 110.7,558.5 C112.45,558.28 113.17,559.18 114.7,560.5 C116.23,561.82 118.15,564.87 119.9,566.4 C121.65,567.93 123.22,568.93 125.2,569.7 C127.18,570.47 129.4,570.83 131.8,571 C134.2,571.17 137.2,571.13 139.6,570.7 C142,570.27 144,569.55 146.2,568.4 C148.4,567.25 150.92,565.45 152.8,563.8 C154.68,562.15 156.25,559.93 157.5,558.5 C158.75,557.07 158.97,557.28 160.3,555.2 C161.63,553.12 163.75,548.95 165.5,546 C167.25,543.05 169.15,539.47 170.8,537.5 C172.45,535.53 173.98,534.32 175.4,534.2 C176.82,534.08 177.88,534.62 179.3,536.8 C180.72,538.98 182.25,543.9 183.9,547.3 C185.55,550.7 187.45,554.78 189.2,557.2 C190.95,559.62 192.65,561.03 194.4,561.8 C196.15,562.57 197.73,562.78 199.7,561.8 C201.67,560.82 204.23,557.38 206.2,555.9 C208.17,554.42 209.73,552.68 211.5,552.9 C213.27,553.12 214.83,555.07 216.8,557.2 C218.77,559.33 220.9,563.4 223.3,565.7 C225.7,568 228.57,569.72 231.2,571 C233.83,572.28 236.8,572.85 239.1,573.4 C241.4,573.95 241.52,574 245,574.3 C248.48,574.6 254.17,574.95 260,575.2 C265.83,575.45 272.17,575.63 280,575.8 C287.83,575.97 302.5,576.13 307,576.2" fill="none" stroke="#F03A42" stroke-width="2.2" stroke-linejoin="round"/>
<line x1="63.3" y1="449.4" x2="334.4" y2="449.4" stroke="#4a4a4a" stroke-width="1.0" />
<line x1="334.4" y1="449.4" x2="334.4" y2="579" stroke="#777" stroke-width="1.2" />
<line x1="63.3" y1="448.9" x2="63.3" y2="579.5" stroke="#888" stroke-width="1.8" />
<line x1="63.3" y1="579" x2="335" y2="579" stroke="#333" stroke-width="1.4" />
<line x1="63.3" y1="577.2" x2="71.8" y2="577.2" stroke="#333" stroke-width="1.1" />
<line x1="63.3" y1="569.86" x2="67.7" y2="569.86" stroke="#333" stroke-width="1.1" />
<line x1="63.3" y1="562.52" x2="67.7" y2="562.52" stroke="#333" stroke-width="1.1" />
<line x1="63.3" y1="555.18" x2="67.7" y2="555.18" stroke="#333" stroke-width="1.1" />
<line x1="63.3" y1="547.84" x2="67.7" y2="547.84" stroke="#333" stroke-width="1.1" />
<line x1="63.3" y1="540.5" x2="71.8" y2="540.5" stroke="#333" stroke-width="1.1" />
<line x1="63.3" y1="533.16" x2="67.7" y2="533.16" stroke="#333" stroke-width="1.1" />
<line x1="63.3" y1="525.82" x2="67.7" y2="525.82" stroke="#333" stroke-width="1.1" />
<line x1="63.3" y1="518.48" x2="67.7" y2="518.48" stroke="#333" stroke-width="1.1" />
<line x1="63.3" y1="511.14" x2="67.7" y2="511.14" stroke="#333" stroke-width="1.1" />
<line x1="63.3" y1="503.8" x2="71.8" y2="503.8" stroke="#333" stroke-width="1.1" />
<line x1="63.3" y1="496.46" x2="67.7" y2="496.46" stroke="#333" stroke-width="1.1" />
<line x1="63.3" y1="489.12" x2="67.7" y2="489.12" stroke="#333" stroke-width="1.1" />
<line x1="63.3" y1="481.78" x2="67.7" y2="481.78" stroke="#333" stroke-width="1.1" />
<line x1="63.3" y1="474.44" x2="67.7" y2="474.44" stroke="#333" stroke-width="1.1" />
<line x1="63.3" y1="467.1" x2="71.8" y2="467.1" stroke="#333" stroke-width="1.1" />
<line x1="63.3" y1="459.76" x2="67.7" y2="459.76" stroke="#333" stroke-width="1.1" />
<line x1="63.3" y1="452.42" x2="67.7" y2="452.42" stroke="#333" stroke-width="1.1" />
<text x="53.2" y="583.1" font-size="16.5" text-anchor="end" fill="#000" font-weight="normal" >0</text>
<text x="53.2" y="546.4" font-size="16.5" text-anchor="end" fill="#000" font-weight="normal" >1</text>
<text x="53.2" y="509.7" font-size="16.5" text-anchor="end" fill="#000" font-weight="normal" >2</text>
<text x="53.2" y="473" font-size="16.5" text-anchor="end" fill="#000" font-weight="normal" >3</text>
<line x1="76.84" y1="579" x2="76.84" y2="575.4" stroke="#333" stroke-width="1.1" />
<line x1="90.38" y1="579" x2="90.38" y2="575.4" stroke="#333" stroke-width="1.1" />
<line x1="103.92" y1="579" x2="103.92" y2="575.4" stroke="#333" stroke-width="1.1" />
<line x1="117.46" y1="579" x2="117.46" y2="575.4" stroke="#333" stroke-width="1.1" />
<line x1="131" y1="579" x2="131" y2="572" stroke="#333" stroke-width="1.1" />
<line x1="144.54" y1="579" x2="144.54" y2="575.4" stroke="#333" stroke-width="1.1" />
<line x1="158.08" y1="579" x2="158.08" y2="575.4" stroke="#333" stroke-width="1.1" />
<line x1="171.62" y1="579" x2="171.62" y2="575.4" stroke="#333" stroke-width="1.1" />
<line x1="185.16" y1="579" x2="185.16" y2="575.4" stroke="#333" stroke-width="1.1" />
<line x1="198.7" y1="579" x2="198.7" y2="572" stroke="#333" stroke-width="1.1" />
<line x1="212.24" y1="579" x2="212.24" y2="575.4" stroke="#333" stroke-width="1.1" />
<line x1="225.78" y1="579" x2="225.78" y2="575.4" stroke="#333" stroke-width="1.1" />
<line x1="239.32" y1="579" x2="239.32" y2="575.4" stroke="#333" stroke-width="1.1" />
<line x1="252.86" y1="579" x2="252.86" y2="575.4" stroke="#333" stroke-width="1.1" />
<line x1="266.4" y1="579" x2="266.4" y2="572" stroke="#333" stroke-width="1.1" />
<line x1="279.94" y1="579" x2="279.94" y2="575.4" stroke="#333" stroke-width="1.1" />
<line x1="293.48" y1="579" x2="293.48" y2="575.4" stroke="#333" stroke-width="1.1" />
<line x1="307.02" y1="579" x2="307.02" y2="575.4" stroke="#333" stroke-width="1.1" />
<line x1="320.56" y1="579" x2="320.56" y2="575.4" stroke="#333" stroke-width="1.1" />
<text x="63.3" y="603.4" font-size="17" text-anchor="middle" fill="#000" font-weight="normal" >530</text>
<text x="131" y="603.4" font-size="17" text-anchor="middle" fill="#000" font-weight="normal" >535</text>
<text x="198.7" y="603.4" font-size="17" text-anchor="middle" fill="#000" font-weight="normal" >540</text>
<text x="266.4" y="603.4" font-size="17" text-anchor="middle" fill="#000" font-weight="normal" >545</text>
<text x="334.1" y="603.4" font-size="17" text-anchor="middle" fill="#000" font-weight="normal" >550</text>
<text x="201.3" y="621.2" font-size="18.7" text-anchor="middle" fill="#000" font-weight="normal" >Fundamental Energy (eV)</text>
<text transform="translate(13.5,542.5) rotate(-90)" font-size="17" text-anchor="middle" fill="#000" font-weight="normal" >Calc. Cross Section</text>
<text transform="translate(33.6,542.5) rotate(-90)" font-size="17" text-anchor="middle" fill="#000" font-weight="normal" >(arb. units)</text>
<text x="90.4" y="550.6" font-size="16" text-anchor="start" fill="#F21C1C" font-weight="bold" >4a<tspan font-size="11" dy="4">1</tspan></text>
<text x="181.2" y="538.2" font-size="16" text-anchor="start" fill="#F21C1C" font-weight="bold" >2b<tspan font-size="11" dy="4">2</tspan></text>
<text x="168.2" y="506.2" font-size="16.8" text-anchor="start" fill="#555" font-weight="bold" >sx1</text>
<text x="204.8" y="469.8" font-size="16.8" text-anchor="start" fill="#555" font-weight="bold" >sx2</text>
<defs>
<radialGradient id="gY" cx="0.5" cy="0.5" r="0.55" fx="0.4" fy="0.35"><stop offset="0" stop-color="#e2f060"/><stop offset="0.7" stop-color="#bcd62a"/><stop offset="1" stop-color="#98ae18"/></radialGradient>
<radialGradient id="gC" cx="0.5" cy="0.5" r="0.55" fx="0.4" fy="0.35"><stop offset="0" stop-color="#40f0d0"/><stop offset="0.7" stop-color="#18c8b0"/><stop offset="1" stop-color="#0e9a8c"/></radialGradient>
<radialGradient id="gY2" cx="0.5" cy="0.5" r="0.55" fx="0.4" fy="0.35"><stop offset="0" stop-color="#f4f070"/><stop offset="0.7" stop-color="#e0d838"/><stop offset="1" stop-color="#b8b020"/></radialGradient>
<radialGradient id="gC2" cx="0.5" cy="0.5" r="0.55" fx="0.4" fy="0.35"><stop offset="0" stop-color="#60f8f8"/><stop offset="0.7" stop-color="#20d8e0"/><stop offset="1" stop-color="#10a8b8"/></radialGradient>
</defs>
<g>
<ellipse cx="131" cy="496.5" rx="12" ry="6" fill="#1cc4ac" transform="rotate(0 131 496.5)"/>
<ellipse cx="122.6" cy="499.4" rx="10.6" ry="7" fill="url(#gC)" transform="rotate(0 122.6 499.4)"/>
<ellipse cx="139.4" cy="499.4" rx="10.6" ry="7" fill="url(#gC)" transform="rotate(0 139.4 499.4)"/>
<ellipse cx="130.8" cy="473.2" rx="10.8" ry="8.6" fill="url(#gY)" transform="rotate(0 130.8 473.2)"/>
<path d="M114.7,474.5 C116,471 121,471.5 124,473 C127,475 129,476.8 131,476.8 C133,476.8 135,475 138,473 C141,471.5 146,471 147,474.5 L147,483 C141,485.5 135,487.5 131,487.5 C127,487.5 121,485.5 114.7,483 Z" fill="url(#gC)"/>
<path d="M128,489 C120,485 112,479 108.2,477.4 C103.6,480 103.6,493 108.6,496.4 C114,494.6 121,491.2 128,489 Z" fill="url(#gY)"/>
<path d="M134,489 C142,485 150,479 153.8,477.4 C158.4,480 158.4,493 153.4,496.4 C148,494.6 141,491.2 134,489 Z" fill="url(#gY)"/>
<path d="M120.5,486.4 L141.5,486.4 L131,497.2 Z" fill="#b8d42c"/>
<path d="M125,487.6 L137,487.6 L131,494 Z" fill="#cce44c"/>
<ellipse cx="131" cy="485.3" rx="2.2" ry="1.3" fill="#e06a20" transform="rotate(0 131 485.3)"/>
</g>
<g>
<ellipse cx="273" cy="491" rx="7.2" ry="11.5" fill="url(#gC2)" transform="rotate(15 273 491)"/>
<ellipse cx="311.8" cy="488" rx="7" ry="9.5" fill="url(#gY2)" transform="rotate(-15 311.8 488)"/>
<ellipse cx="284.3" cy="488" rx="7.6" ry="13" fill="url(#gY)" transform="rotate(0 284.3 488)"/>
<ellipse cx="300.2" cy="488" rx="7.6" ry="13" fill="url(#gC)" transform="rotate(0 300.2 488)"/>
<ellipse cx="282" cy="477" rx="10" ry="6" fill="url(#gY2)" transform="rotate(0 282 477)"/>
<ellipse cx="302.6" cy="477" rx="10" ry="6" fill="url(#gC2)" transform="rotate(0 302.6 477)"/>
<ellipse cx="280.7" cy="465.2" rx="9.4" ry="6.2" fill="url(#gC2)" transform="rotate(-20 280.7 465.2)"/>
<ellipse cx="303.4" cy="465.6" rx="9.4" ry="6.2" fill="url(#gY2)" transform="rotate(20 303.4 465.6)"/>
<path d="M262.5,483.5 C256.5,492 259,505 276,510.5 C282,512.5 288,511.5 290,507.5 C282,505 273,500.5 268.5,493 C266.5,489.5 265.5,486 262.5,483.5 Z" fill="url(#gY2)"/>
<path d="M322,483.5 C328,492 325.5,505 308.5,510.5 C302.5,512.5 296.5,511.5 294.5,507.5 C302.5,505 311.5,500.5 316,493 C318,489.5 319,486 322,483.5 Z" fill="url(#gC2)"/>
<line x1="292.3" y1="470" x2="292.3" y2="505" stroke="#fff" stroke-width="0.8" />
</g>
<clipPath id="clE"><rect x="415.6" y="403.6" width="255.4" height="174.1"/></clipPath>
<g clip-path="url(#clE)">
<line x1="436.6" y1="531.9" x2="436.6" y2="565.4" stroke="#111" stroke-width="1.1" />
<line x1="415.6" y1="548.6" x2="458.7" y2="548.6" stroke="#111" stroke-width="1.1" />
<line x1="434.6" y1="531.9" x2="438.6" y2="531.9" stroke="#111" stroke-width="1.1" />
<line x1="434.6" y1="565.4" x2="438.6" y2="565.4" stroke="#111" stroke-width="1.1" />
<line x1="415.6" y1="546.8" x2="415.6" y2="550.4" stroke="#111" stroke-width="1.1" />
<line x1="458.7" y1="546.8" x2="458.7" y2="550.4" stroke="#111" stroke-width="1.1" />
<line x1="470.2" y1="549.7" x2="470.2" y2="565.5" stroke="#111" stroke-width="1.1" />
<line x1="453.4" y1="557.6" x2="486.5" y2="557.6" stroke="#111" stroke-width="1.1" />
<line x1="468.2" y1="549.7" x2="472.2" y2="549.7" stroke="#111" stroke-width="1.1" />
<line x1="468.2" y1="565.5" x2="472.2" y2="565.5" stroke="#111" stroke-width="1.1" />
<line x1="453.4" y1="555.8" x2="453.4" y2="559.4" stroke="#111" stroke-width="1.1" />
<line x1="486.5" y1="555.8" x2="486.5" y2="559.4" stroke="#111" stroke-width="1.1" />
<line x1="474.3" y1="518.3" x2="474.3" y2="580" stroke="#111" stroke-width="1.1" />
<line x1="455.4" y1="560.8" x2="493.5" y2="560.8" stroke="#111" stroke-width="1.1" />
<line x1="472.3" y1="518.3" x2="476.3" y2="518.3" stroke="#111" stroke-width="1.1" />
<line x1="472.3" y1="580" x2="476.3" y2="580" stroke="#111" stroke-width="1.1" />
<line x1="455.4" y1="559" x2="455.4" y2="562.6" stroke="#111" stroke-width="1.1" />
<line x1="493.5" y1="559" x2="493.5" y2="562.6" stroke="#111" stroke-width="1.1" />
<line x1="511.2" y1="497.6" x2="511.2" y2="580" stroke="#111" stroke-width="1.1" />
<line x1="491.7" y1="537.6" x2="530" y2="537.6" stroke="#111" stroke-width="1.1" />
<line x1="509.2" y1="497.6" x2="513.2" y2="497.6" stroke="#111" stroke-width="1.1" />
<line x1="509.2" y1="580" x2="513.2" y2="580" stroke="#111" stroke-width="1.1" />
<line x1="491.7" y1="535.8" x2="491.7" y2="539.4" stroke="#111" stroke-width="1.1" />
<line x1="530" y1="535.8" x2="530" y2="539.4" stroke="#111" stroke-width="1.1" />
<line x1="512.9" y1="540" x2="512.9" y2="580" stroke="#111" stroke-width="1.1" />
<line x1="492.5" y1="554" x2="533.6" y2="554" stroke="#111" stroke-width="1.1" />
<line x1="510.9" y1="540" x2="514.9" y2="540" stroke="#111" stroke-width="1.1" />
<line x1="510.9" y1="580" x2="514.9" y2="580" stroke="#111" stroke-width="1.1" />
<line x1="492.5" y1="552.2" x2="492.5" y2="555.8" stroke="#111" stroke-width="1.1" />
<line x1="533.6" y1="552.2" x2="533.6" y2="555.8" stroke="#111" stroke-width="1.1" />
<line x1="548" y1="466.4" x2="548" y2="531" stroke="#111" stroke-width="1.1" />
<line x1="526.4" y1="499.4" x2="569.4" y2="499.4" stroke="#111" stroke-width="1.1" />
<line x1="546" y1="466.4" x2="550" y2="466.4" stroke="#111" stroke-width="1.1" />
<line x1="546" y1="531" x2="550" y2="531" stroke="#111" stroke-width="1.1" />
<line x1="526.4" y1="497.6" x2="526.4" y2="501.2" stroke="#111" stroke-width="1.1" />
<line x1="569.4" y1="497.6" x2="569.4" y2="501.2" stroke="#111" stroke-width="1.1" />
<line x1="554.5" y1="411.6" x2="554.5" y2="488" stroke="#111" stroke-width="1.1" />
<line x1="538.4" y1="450.4" x2="570.4" y2="450.4" stroke="#111" stroke-width="1.1" />
<line x1="552.5" y1="411.6" x2="556.5" y2="411.6" stroke="#111" stroke-width="1.1" />
<line x1="552.5" y1="488" x2="556.5" y2="488" stroke="#111" stroke-width="1.1" />
<line x1="538.4" y1="448.6" x2="538.4" y2="452.2" stroke="#111" stroke-width="1.1" />
<line x1="570.4" y1="448.6" x2="570.4" y2="452.2" stroke="#111" stroke-width="1.1" />
<line x1="597" y1="470.6" x2="597" y2="520" stroke="#111" stroke-width="1.1" />
<line x1="580" y1="503" x2="613.6" y2="503" stroke="#111" stroke-width="1.1" />
<line x1="595" y1="470.6" x2="599" y2="470.6" stroke="#111" stroke-width="1.1" />
<line x1="595" y1="520" x2="599" y2="520" stroke="#111" stroke-width="1.1" />
<line x1="580" y1="501.2" x2="580" y2="504.8" stroke="#111" stroke-width="1.1" />
<line x1="613.6" y1="501.2" x2="613.6" y2="504.8" stroke="#111" stroke-width="1.1" />
<line x1="594.4" y1="495" x2="594.4" y2="536.2" stroke="#111" stroke-width="1.1" />
<line x1="571" y1="511.4" x2="616.6" y2="511.4" stroke="#111" stroke-width="1.1" />
<line x1="592.4" y1="495" x2="596.4" y2="495" stroke="#111" stroke-width="1.1" />
<line x1="592.4" y1="536.2" x2="596.4" y2="536.2" stroke="#111" stroke-width="1.1" />
<line x1="571" y1="509.6" x2="571" y2="513.2" stroke="#111" stroke-width="1.1" />
<line x1="616.6" y1="509.6" x2="616.6" y2="513.2" stroke="#111" stroke-width="1.1" />
<line x1="635.3" y1="495.6" x2="635.3" y2="543.9" stroke="#111" stroke-width="1.1" />
<line x1="609" y1="520" x2="661.6" y2="520" stroke="#111" stroke-width="1.1" />
<line x1="633.3" y1="495.6" x2="637.3" y2="495.6" stroke="#111" stroke-width="1.1" />
<line x1="633.3" y1="543.9" x2="637.3" y2="543.9" stroke="#111" stroke-width="1.1" />
<line x1="609" y1="518.2" x2="609" y2="521.8" stroke="#111" stroke-width="1.1" />
<line x1="661.6" y1="518.2" x2="661.6" y2="521.8" stroke="#111" stroke-width="1.1" />
<polyline points="433,558 469.7,541.7 488.1,528.4 499.1,536.9 506.1,535.1 512.9,509 515.8,505.3 524.4,509.3 533.4,502 535.5,505.3 542.8,517.1 551.8,485 554,470 561.4,492.4 570.3,511.2 579.1,526.6 586.6,508 597.6,501 652.4,517.4 672,520.8" fill="none" stroke="#9900CC" stroke-width="2.2" stroke-linejoin="round" />
<circle cx="433" cy="558" r="3.7" fill="#fff" stroke="#9900CC" stroke-width="2"/>
<circle cx="469.7" cy="541.7" r="3.7" fill="#fff" stroke="#9900CC" stroke-width="2"/>
<circle cx="488.1" cy="528.4" r="3.7" fill="#fff" stroke="#9900CC" stroke-width="2"/>
<circle cx="499.1" cy="536.9" r="3.7" fill="#fff" stroke="#9900CC" stroke-width="2"/>
<circle cx="506.1" cy="535.1" r="3.7" fill="#fff" stroke="#9900CC" stroke-width="2"/>
<circle cx="512.9" cy="509" r="3.7" fill="#fff" stroke="#9900CC" stroke-width="2"/>
<circle cx="515.8" cy="505.3" r="3.7" fill="#fff" stroke="#9900CC" stroke-width="2"/>
<circle cx="524.4" cy="509.3" r="3.7" fill="#fff" stroke="#9900CC" stroke-width="2"/>
<circle cx="533.4" cy="502" r="3.7" fill="#fff" stroke="#9900CC" stroke-width="2"/>
<circle cx="535.5" cy="505.3" r="3.7" fill="#fff" stroke="#9900CC" stroke-width="2"/>
<circle cx="542.8" cy="517.1" r="3.7" fill="#fff" stroke="#9900CC" stroke-width="2"/>
<circle cx="551.8" cy="485" r="3.7" fill="#fff" stroke="#9900CC" stroke-width="2"/>
<circle cx="554" cy="470" r="3.7" fill="#fff" stroke="#9900CC" stroke-width="2"/>
<circle cx="561.4" cy="492.4" r="3.7" fill="#fff" stroke="#9900CC" stroke-width="2"/>
<circle cx="570.3" cy="511.2" r="3.7" fill="#fff" stroke="#9900CC" stroke-width="2"/>
<circle cx="579.1" cy="526.6" r="3.7" fill="#fff" stroke="#9900CC" stroke-width="2"/>
<circle cx="586.6" cy="508" r="3.7" fill="#fff" stroke="#9900CC" stroke-width="2"/>
<circle cx="597.6" cy="501" r="3.7" fill="#fff" stroke="#9900CC" stroke-width="2"/>
<circle cx="652.4" cy="517.4" r="3.7" fill="#fff" stroke="#9900CC" stroke-width="2"/>
<rect x="432.8" y="544.8" width="7.6" height="7.6" fill="#000"/>
<rect x="466.4" y="553.8" width="7.6" height="7.6" fill="#000"/>
<rect x="470.5" y="557" width="7.6" height="7.6" fill="#000"/>
<rect x="507.4" y="533.8" width="7.6" height="7.6" fill="#000"/>
<rect x="509.1" y="550.2" width="7.6" height="7.6" fill="#000"/>
<rect x="544.2" y="495.6" width="7.6" height="7.6" fill="#000"/>
<rect x="550.7" y="446.6" width="7.6" height="7.6" fill="#000"/>
<rect x="593.2" y="499.2" width="7.6" height="7.6" fill="#000"/>
<rect x="590.6" y="507.6" width="7.6" height="7.6" fill="#000"/>
<rect x="631.5" y="516.2" width="7.6" height="7.6" fill="#000"/>
</g>
<line x1="415.6" y1="403.6" x2="671" y2="403.6" stroke="#666" stroke-width="1.2" />
<line x1="671" y1="403.6" x2="671" y2="577.7" stroke="#666" stroke-width="1.3" />
<line x1="415.6" y1="403.1" x2="415.6" y2="578.2" stroke="#666" stroke-width="1.6" />
<line x1="415.6" y1="577.7" x2="671.6" y2="577.7" stroke="#333" stroke-width="1.5" />
<line x1="415.6" y1="574.66" x2="419.2" y2="574.66" stroke="#333" stroke-width="1.1" />
<line x1="415.6" y1="567.83" x2="419.2" y2="567.83" stroke="#333" stroke-width="1.1" />
<line x1="415.6" y1="561" x2="422.6" y2="561" stroke="#333" stroke-width="1.1" />
<line x1="415.6" y1="554.17" x2="419.2" y2="554.17" stroke="#333" stroke-width="1.1" />
<line x1="415.6" y1="547.34" x2="419.2" y2="547.34" stroke="#333" stroke-width="1.1" />
<line x1="415.6" y1="540.51" x2="419.2" y2="540.51" stroke="#333" stroke-width="1.1" />
<line x1="415.6" y1="533.68" x2="419.2" y2="533.68" stroke="#333" stroke-width="1.1" />
<line x1="415.6" y1="526.85" x2="419.2" y2="526.85" stroke="#333" stroke-width="1.1" />
<line x1="415.6" y1="520.02" x2="419.2" y2="520.02" stroke="#333" stroke-width="1.1" />
<line x1="415.6" y1="513.19" x2="419.2" y2="513.19" stroke="#333" stroke-width="1.1" />
<line x1="415.6" y1="506.36" x2="419.2" y2="506.36" stroke="#333" stroke-width="1.1" />
<line x1="415.6" y1="499.53" x2="419.2" y2="499.53" stroke="#333" stroke-width="1.1" />
<line x1="415.6" y1="492.7" x2="422.6" y2="492.7" stroke="#333" stroke-width="1.1" />
<line x1="415.6" y1="485.87" x2="419.2" y2="485.87" stroke="#333" stroke-width="1.1" />
<line x1="415.6" y1="479.04" x2="419.2" y2="479.04" stroke="#333" stroke-width="1.1" />
<line x1="415.6" y1="472.21" x2="419.2" y2="472.21" stroke="#333" stroke-width="1.1" />
<line x1="415.6" y1="465.38" x2="419.2" y2="465.38" stroke="#333" stroke-width="1.1" />
<line x1="415.6" y1="458.55" x2="419.2" y2="458.55" stroke="#333" stroke-width="1.1" />
<line x1="415.6" y1="451.72" x2="419.2" y2="451.72" stroke="#333" stroke-width="1.1" />
<line x1="415.6" y1="444.89" x2="419.2" y2="444.89" stroke="#333" stroke-width="1.1" />
<line x1="415.6" y1="438.06" x2="419.2" y2="438.06" stroke="#333" stroke-width="1.1" />
<line x1="415.6" y1="431.23" x2="419.2" y2="431.23" stroke="#333" stroke-width="1.1" />
<line x1="415.6" y1="424.4" x2="422.6" y2="424.4" stroke="#333" stroke-width="1.1" />
<line x1="415.6" y1="417.57" x2="419.2" y2="417.57" stroke="#333" stroke-width="1.1" />
<line x1="415.6" y1="410.74" x2="419.2" y2="410.74" stroke="#333" stroke-width="1.1" />
<text x="410.6" y="565.8" font-size="18.5" text-anchor="end" fill="#000" font-weight="normal" >0</text>
<text x="410.6" y="497.5" font-size="18.5" text-anchor="end" fill="#000" font-weight="normal" >2</text>
<text x="410.6" y="429.2" font-size="18.5" text-anchor="end" fill="#000" font-weight="normal" >4</text>
<line x1="422.69" y1="577.7" x2="422.69" y2="574.1" stroke="#333" stroke-width="1.1" />
<line x1="429.97" y1="577.7" x2="429.97" y2="574.1" stroke="#333" stroke-width="1.1" />
<line x1="437.26" y1="577.7" x2="437.26" y2="574.1" stroke="#333" stroke-width="1.1" />
<line x1="444.54" y1="577.7" x2="444.54" y2="574.1" stroke="#333" stroke-width="1.1" />
<line x1="451.83" y1="577.7" x2="451.83" y2="570.7" stroke="#333" stroke-width="1.1" />
<line x1="459.11" y1="577.7" x2="459.11" y2="574.1" stroke="#333" stroke-width="1.1" />
<line x1="466.4" y1="577.7" x2="466.4" y2="574.1" stroke="#333" stroke-width="1.1" />
<line x1="473.69" y1="577.7" x2="473.69" y2="574.1" stroke="#333" stroke-width="1.1" />
<line x1="480.97" y1="577.7" x2="480.97" y2="574.1" stroke="#333" stroke-width="1.1" />
<line x1="488.26" y1="577.7" x2="488.26" y2="574.1" stroke="#333" stroke-width="1.1" />
<line x1="495.54" y1="577.7" x2="495.54" y2="574.1" stroke="#333" stroke-width="1.1" />
<line x1="502.83" y1="577.7" x2="502.83" y2="574.1" stroke="#333" stroke-width="1.1" />
<line x1="510.11" y1="577.7" x2="510.11" y2="574.1" stroke="#333" stroke-width="1.1" />
<line x1="517.4" y1="577.7" x2="517.4" y2="574.1" stroke="#333" stroke-width="1.1" />
<line x1="524.69" y1="577.7" x2="524.69" y2="570.7" stroke="#333" stroke-width="1.1" />
<line x1="531.97" y1="577.7" x2="531.97" y2="574.1" stroke="#333" stroke-width="1.1" />
<line x1="539.26" y1="577.7" x2="539.26" y2="574.1" stroke="#333" stroke-width="1.1" />
<line x1="546.54" y1="577.7" x2="546.54" y2="574.1" stroke="#333" stroke-width="1.1" />
<line x1="553.83" y1="577.7" x2="553.83" y2="574.1" stroke="#333" stroke-width="1.1" />
<line x1="561.11" y1="577.7" x2="561.11" y2="574.1" stroke="#333" stroke-width="1.1" />
<line x1="568.4" y1="577.7" x2="568.4" y2="574.1" stroke="#333" stroke-width="1.1" />
<line x1="575.69" y1="577.7" x2="575.69" y2="574.1" stroke="#333" stroke-width="1.1" />
<line x1="582.97" y1="577.7" x2="582.97" y2="574.1" stroke="#333" stroke-width="1.1" />
<line x1="590.26" y1="577.7" x2="590.26" y2="574.1" stroke="#333" stroke-width="1.1" />
<line x1="597.54" y1="577.7" x2="597.54" y2="570.7" stroke="#333" stroke-width="1.1" />
<line x1="604.83" y1="577.7" x2="604.83" y2="574.1" stroke="#333" stroke-width="1.1" />
<line x1="612.11" y1="577.7" x2="612.11" y2="574.1" stroke="#333" stroke-width="1.1" />
<line x1="619.4" y1="577.7" x2="619.4" y2="574.1" stroke="#333" stroke-width="1.1" />
<line x1="626.69" y1="577.7" x2="626.69" y2="574.1" stroke="#333" stroke-width="1.1" />
<line x1="633.97" y1="577.7" x2="633.97" y2="574.1" stroke="#333" stroke-width="1.1" />
<line x1="641.26" y1="577.7" x2="641.26" y2="574.1" stroke="#333" stroke-width="1.1" />
<line x1="648.54" y1="577.7" x2="648.54" y2="574.1" stroke="#333" stroke-width="1.1" />
<line x1="655.83" y1="577.7" x2="655.83" y2="574.1" stroke="#333" stroke-width="1.1" />
<line x1="663.11" y1="577.7" x2="663.11" y2="574.1" stroke="#333" stroke-width="1.1" />
<text x="451.83" y="596.6" font-size="18.5" text-anchor="middle" fill="#000" font-weight="normal" >530</text>
<text x="524.69" y="596.6" font-size="18.5" text-anchor="middle" fill="#000" font-weight="normal" >540</text>
<text x="597.54" y="596.6" font-size="18.5" text-anchor="middle" fill="#000" font-weight="normal" >550</text>
<text x="670.4" y="596.6" font-size="18.5" text-anchor="middle" fill="#000" font-weight="normal" >560</text>
<text x="537.5" y="619" font-size="18.7" text-anchor="middle" fill="#000" font-weight="normal" >Fundamental Energy (eV)</text>
<g transform="translate(7.6,313.6)">
<line x1="361" y1="242.2" x2="383.8" y2="242.2" stroke="#555" stroke-width="1.0" />
<line x1="361.1" y1="206.4" x2="383.8" y2="206.4" stroke="#555" stroke-width="1.0" />
<path d="M367.5,230.1 L383.6,238.4" stroke="#000" stroke-width="1.9" stroke-linecap="round" fill="none"/>
<path d="M380.4,228.2 C383.4,228.6 384.2,231.4 381.6,232.3 C378,233.3 372.5,234.2 369.6,235.4 C366.8,236.6 367.3,239.2 370.6,239.4" stroke="#000" stroke-width="1.1" fill="none"/>
<text transform="translate(370.9,228.6) rotate(-90)" font-family="Liberation Serif, serif" font-size="16.5">(2)</text>
<text transform="translate(370.6,204.4) rotate(-90)" font-family="Liberation Serif, serif" font-size="16.5">2</text>
<text transform="translate(378.6,102.6) rotate(-90)" font-size="18.5" text-anchor="end">(arb. units)</text>
</g>
<line x1="418.4" y1="415.6" x2="450.4" y2="415.6" stroke="#9900CC" stroke-width="2.2" />
<circle cx="434.4" cy="415.6" r="3.7" fill="#fff" stroke="#9900CC" stroke-width="2"/>
<rect x="431.2" y="428.6" width="7.6" height="7.6" fill="#000"/>
<text x="454" y="420.2" font-size="13.5" text-anchor="start" fill="#000" font-weight="normal" >Theory</text>
<text x="454" y="436.2" font-size="13.5" text-anchor="start" fill="#000" font-weight="normal" >Experiment</text>
</svg></body></html>
